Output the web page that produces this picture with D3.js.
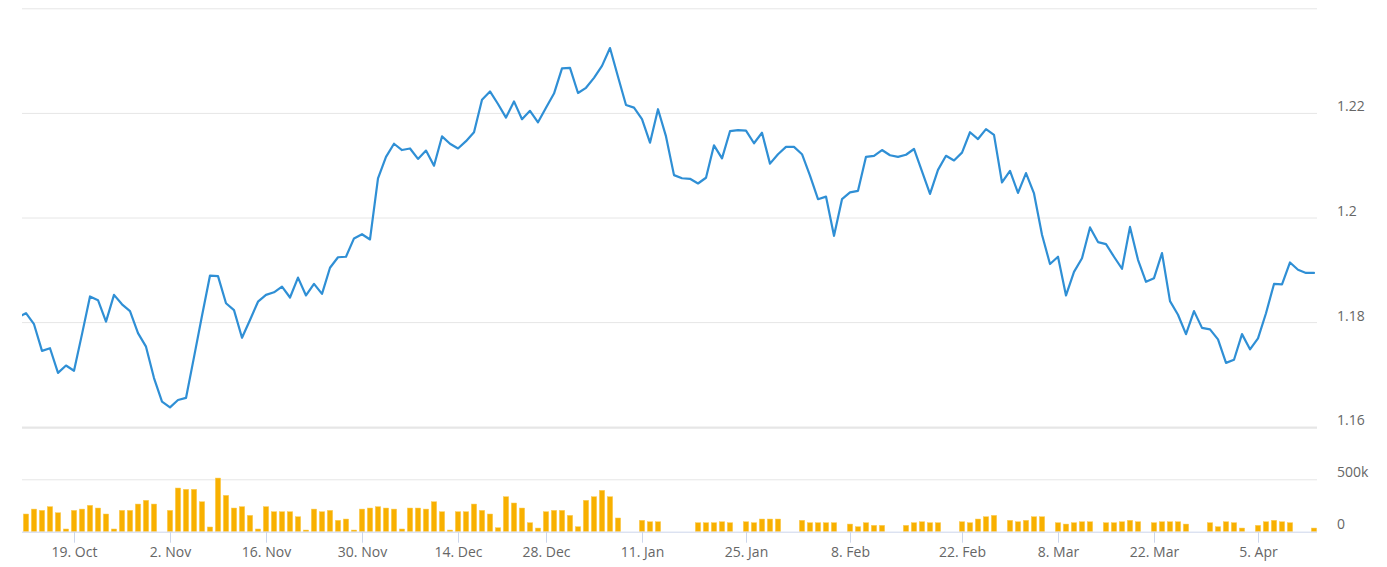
<!DOCTYPE html>
<html><head><meta charset="utf-8">
<script src="https://cdn.jsdelivr.net/npm/d3@7"></script>
<style>body{margin:0;background:#fff}svg{display:block;font-family:"Open Sans",sans-serif}</style>
</head><body><svg id="c" width="1387" height="567"></svg>
<script>
// Daily closes (ordinal points; first one lies just left of the visible window)
const closes = [1.1809,1.1817,1.1796,1.1745,1.1750,1.1703,1.1717,1.1707,1.1777,1.1849,
1.1842,1.1801,1.1852,1.1834,1.1821,1.1779,1.1753,1.1693,1.1648,1.1637,
1.1651,1.1655,1.1733,1.1812,1.1889,1.1888,1.1836,1.1823,1.1770,1.1804,
1.1839,1.1852,1.1857,1.1868,1.1847,1.1885,1.1851,1.1873,1.1854,1.1904,
1.1924,1.1925,1.1960,1.1968,1.1958,1.2075,1.2116,1.2141,1.2129,1.2132,
1.2112,1.2128,1.2099,1.2155,1.2141,1.2132,1.2146,1.2163,1.2225,1.2241,
1.2217,1.2191,1.2222,1.2188,1.2204,1.2182,1.2210,1.2237,1.2285,1.2286,
1.2238,1.2248,1.2267,1.2290,1.2324,1.2269,1.2215,1.2210,1.2188,1.2143,
1.2207,1.2155,1.2081,1.2075,1.2074,1.2065,1.2076,1.2138,1.2113,1.2165,
1.2167,1.2166,1.2142,1.2162,1.2103,1.2121,1.2135,1.2135,1.2121,1.2080,
1.2035,1.2040,1.1965,1.2035,1.2048,1.2051,1.2116,1.2118,1.2129,1.2119,
1.2116,1.2120,1.2131,1.2088,1.2045,1.2091,1.2118,1.2109,1.2124,1.2163,
1.2150,1.2169,1.2158,1.2067,1.2089,1.2047,1.2085,1.2046,1.1967,1.1911,
1.1925,1.1851,1.1896,1.1922,1.1981,1.1953,1.1949,1.1925,1.1902,1.1982,
1.1919,1.1877,1.1884,1.1932,1.1840,1.1814,1.1777,1.1821,1.1789,1.1786,
1.1767,1.1722,1.1728,1.1777,1.1748,1.1769,1.1817,1.1873,1.1872,1.1914,
1.1900,1.1894,1.1894];

// Volume in thousands (null = no bar)
const volumes = [null,169,216,204,239,181,26,204,216,252,
226,169,26,204,204,264,300,264,null,204,
417,405,405,286,45,512,347,226,239,156,
26,239,191,191,191,143,16,216,191,204,
109,121,16,216,226,239,226,216,26,226,
226,216,286,191,16,191,191,264,204,169,
38,334,274,226,86,35,191,204,204,156,
48,300,334,395,334,131,null,null,109,95,
95,null,null,null,null,86,86,86,95,86,
null,95,86,121,121,121,null,null,109,86,
86,86,86,null,73,48,86,61,61,null,
null,61,86,95,86,86,null,null,95,86,
121,143,156,null,109,95,109,143,143,null,
86,73,86,95,95,null,86,86,95,109,
95,null,86,95,95,95,73,null,null,86,
48,95,86,35,null,61,95,109,95,86,
null,null,35];

// X-axis ticks: point where each label sits, and its text
const tickPoints = [7,19,31,43,55,66,78,91,104,118,130,142,155];
const tickLabels = ["19. Oct","2. Nov","16. Nov","30. Nov","14. Dec","28. Dec","11. Jan","25. Jan","8. Feb","22. Feb","8. Mar","22. Mar","5. Apr"];
const priceTicks = [1.16,1.18,1.2,1.22,1.24];
const priceLabelTicks = [1.16,1.18,1.2,1.22];
const volTicks = [0,500];
const volTickLabels = ["0","500k"];

const svg = d3.select("#c");
const L = 22, R = 1317;
const pTop = 8.3, pBot = 426.7, vTop = 479.3, vBot = 531.7;
const x = d3.scaleLinear().domain([0.5, 162.375]).range([L, R]);
const y = d3.scaleLinear().domain([1.16, 1.24]).range([pBot, pTop]);
const yv = d3.scaleLinear().domain([0, 500]).range([vBot, vTop]);

// price gridlines
const gp = svg.append("g").attr("transform", `translate(${L},0)`)
  .call(d3.axisRight(y).tickValues(priceTicks).tickSize(R - L).tickFormat(""));
gp.select(".domain").remove();
gp.selectAll("line").attr("stroke", "#e6e6e6");
// bottom separator of price pane
svg.append("line").attr("x1", L).attr("x2", R).attr("y1", pBot + 1).attr("y2", pBot + 1)
  .attr("stroke", "#e6e6e6").attr("stroke-width", 2);

// volume gridline
const gv = svg.append("g").attr("transform", `translate(${L},0)`)
  .call(d3.axisRight(yv).tickValues([500]).tickSize(R - L).tickFormat(""));
gv.select(".domain").remove();
gv.selectAll("line").attr("stroke", "#e6e6e6");

// price labels
const ay = svg.append("g").attr("transform", "translate(1337,0)")
  .call(d3.axisRight(y).tickValues(priceLabelTicks).tickSize(0).tickPadding(0).tickFormat(d => String(d)));
ay.select(".domain").remove();
ay.selectAll("text").attr("dy", -2).attr("font-size", 14).attr("font-family", "Open Sans, sans-serif").attr("fill", "#666");

// volume labels
const av = svg.append("g").attr("transform", "translate(1337,0)")
  .call(d3.axisRight(yv).tickValues(volTicks).tickSize(0).tickPadding(0).tickFormat((d, i) => volTickLabels[i]));
av.select(".domain").remove();
av.selectAll("text").attr("dy", (d) => d === 0 ? -3.4 : -2.6).attr("font-size", 14).attr("font-family", "Open Sans, sans-serif").attr("fill", "#666");

// clip
svg.append("clipPath").attr("id", "clip").append("rect")
  .attr("x", L).attr("y", 0).attr("width", R - L).attr("height", vBot);

// volume bars
svg.append("g").attr("clip-path", "url(#clip)").selectAll("rect")
  .data(volumes.map((v, i) => ({v, i})).filter(d => d.v != null))
  .join("rect")
  .attr("x", d => x(d.i) - 2.7).attr("width", 5.4)
  .attr("y", d => yv(d.v)).attr("height", d => vBot - yv(d.v))
  .attr("fill", "#f8b000").attr("stroke", "#fbd060").attr("stroke-width", 0.5);

// x axis
const ax = svg.append("g").attr("transform", `translate(0,${vBot})`)
  .call(d3.axisBottom(x).tickValues(tickPoints).tickSize(11).tickPadding(4).tickFormat((d, i) => tickLabels[i]));
ax.select(".domain").attr("stroke", "#ccd6eb").attr("d", `M${L},0.5H${R}`);
ax.selectAll(".tick line").attr("stroke", "#ccd6eb");
ax.selectAll("text").attr("font-size", 14).attr("font-family", "Open Sans, sans-serif").attr("fill", "#666");

// price line
const line = d3.line().x((d, i) => x(i)).y(d => y(d));
svg.append("path").attr("clip-path", "url(#clip)").datum(closes)
  .attr("d", line).attr("fill", "none").attr("stroke", "#2f8fd5")
  .attr("stroke-width", 2.2).attr("stroke-linejoin", "round").attr("stroke-linecap", "round");
</script></body></html>
